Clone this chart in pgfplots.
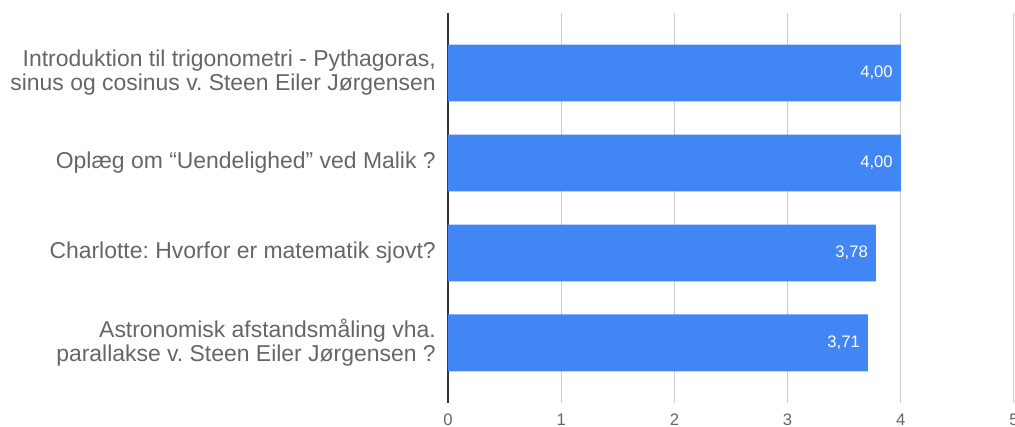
\documentclass[border=0pt]{standalone}
\usepackage{pgfplots}
\pgfplotsset{compat=1.18}
\usepackage{fontspec}
\setmainfont{Liberation Sans}
\frenchspacing
\definecolor{barblue}{HTML}{4285F4}
\definecolor{labgray}{HTML}{666666}
\definecolor{gridgray}{HTML}{CCCCCC}
\definecolor{zeroline}{HTML}{333333}

\begin{document}
\begin{tikzpicture}
\begin{axis}[
  at={(0,0)}, anchor=south west,
  scale only axis,
  width=424.5pt, height=292.5pt,
  xbar, bar width=0.633,
  xmin=0, xmax=5,
  ymin=-0.667, ymax=3.667,
  y dir=reverse,
  xtick={1,2,3,4,5},
  extra x ticks={0},
  extra x tick style={major grid style={draw=zeroline, line width=1.1pt}},
  xmajorgrids, major grid style={draw=gridgray, line width=0.75pt},
  major tick length=0pt,
  axis line style={draw=none},
  ytick={0,1,2,3},
  yticklabels={
    {Introduktion til trigonometri - Pythagoras,\\sinus og cosinus v. Steen Eiler Jørgensen},
    {Oplæg om “Uendelighed” ved Malik ?},
    {Charlotte: Hvorfor er matematik sjovt?},
    {Astronomisk afstandsmåling vha.\\parallakse v. Steen Eiler Jørgensen ?}},
  yticklabel style={align=right, text=labgray, font=\fontsize{17.2}{18}\selectfont, inner sep=0pt, xshift=-9pt},
  xticklabel style={anchor=base, yshift=-16.8pt, text=labgray, font=\fontsize{12.5}{14}\selectfont},
  /pgf/number format/assume math mode=true,
  nodes near coords,
  every node near coord/.append style={anchor=east, xshift=-2.5pt, text=white,
    font=\fontsize{12.5}{14}\selectfont,
    /pgf/number format/.cd, fixed, fixed zerofill, precision=2, use comma, assume math mode=true},
]
\addplot[fill=barblue, draw=none] coordinates {(4.00,0) (4.00,1) (3.78,2) (3.71,3)};
\end{axis}
\pgfresetboundingbox
\path (-336pt,-18pt) rectangle (425.25pt,302.25pt);
\end{tikzpicture}
\end{document}
